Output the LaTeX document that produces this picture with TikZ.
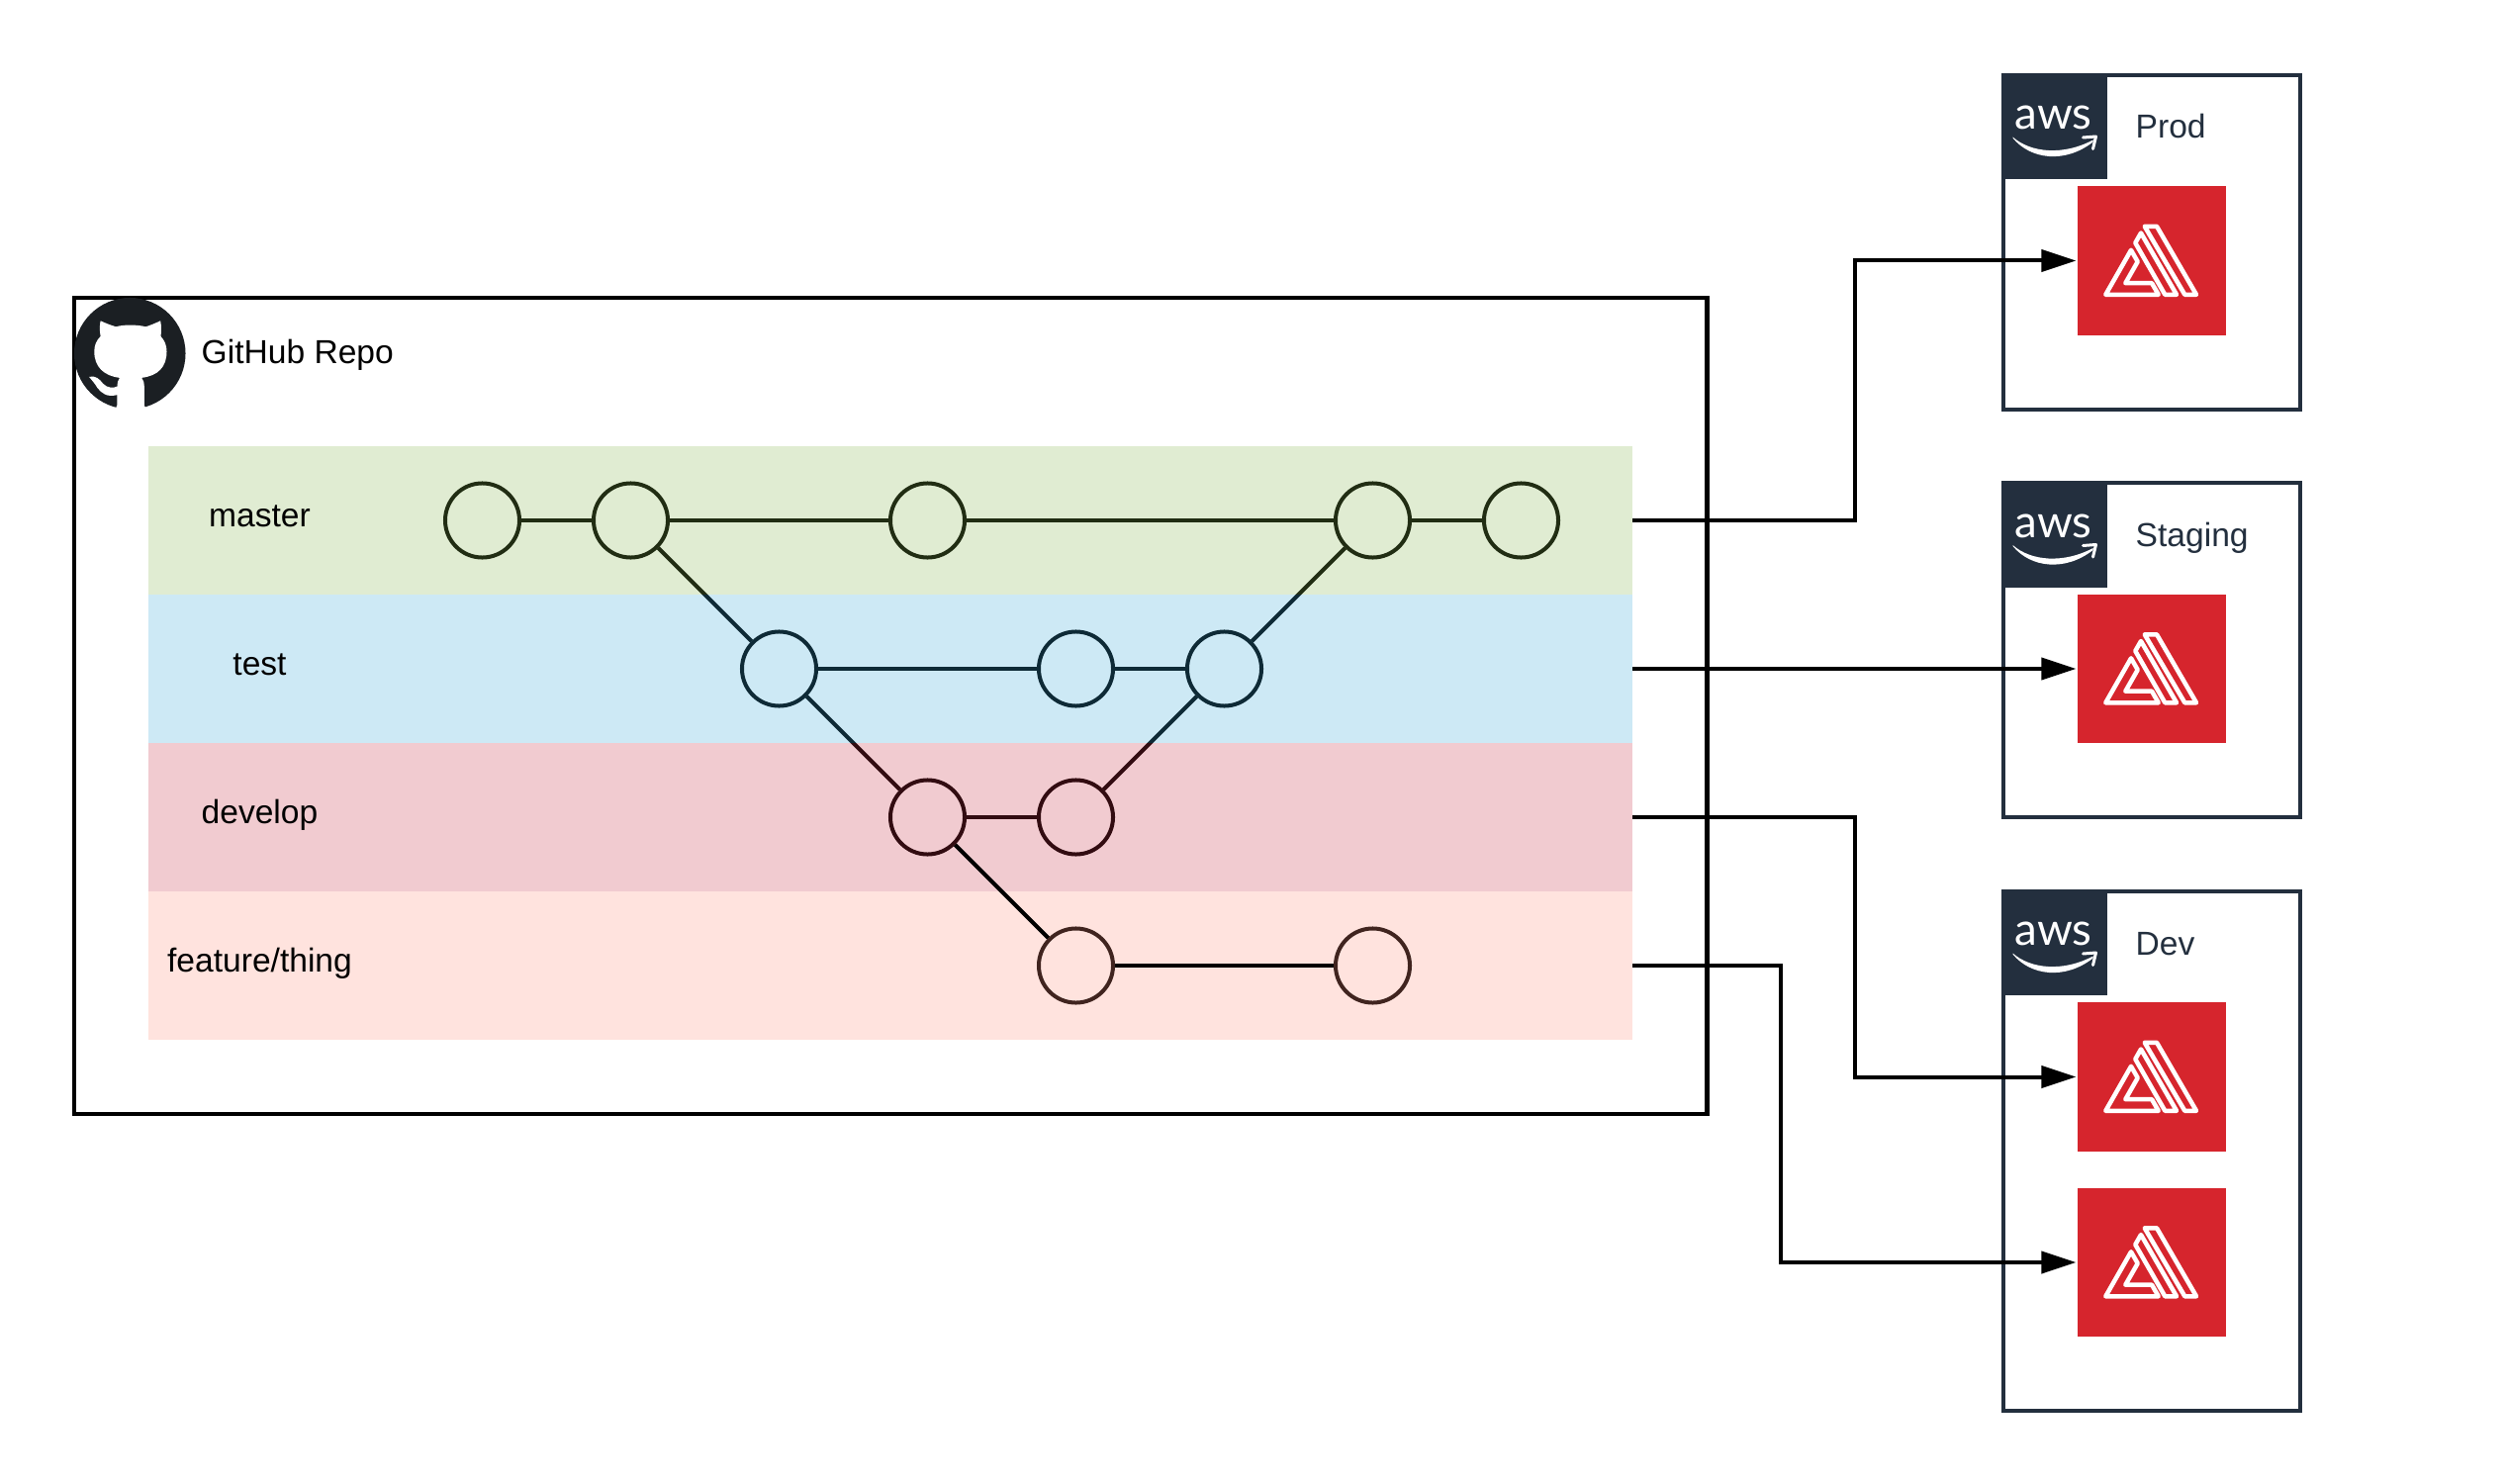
\documentclass[tikz,border=0pt]{standalone}
\usepackage{fontspec}
\setmainfont{Liberation Sans}
\newfontfamily\awsfont{Lato}
\usetikzlibrary{arrows.meta}
\definecolor{awsdark}{HTML}{232F3E}
\definecolor{ghdark}{HTML}{1B1F23}
\definecolor{ampred}{HTML}{D6252D}
\definecolor{masterfill}{HTML}{84B44C}
\definecolor{testfill}{HTML}{38A8D8}
\definecolor{developfill}{HTML}{C83044}
\definecolor{featurefill}{HTML}{FF907C}
\tikzset{
  lane/.style={inner sep=0pt,outer sep=0pt,minimum width=15cm,minimum height=1.5cm,fill opacity=.25},
  commit/.style={circle,draw=black,line width=.04cm,inner sep=0pt,minimum size=.75cm},
  link/.style={draw=black,line width=.04cm},
  deploy/.style={link,-{Triangle[length=.35cm,width=.22cm]},shorten >=.015cm},
  lanelabel/.style={anchor=base,font=\fontsize{9.55}{11}\selectfont},
  accountbox/.style={draw=awsdark,line width=.04cm,inner sep=0pt,minimum width=3cm},
  accountlabel/.style={anchor=base west,inner sep=0pt,text=awsdark,font=\fontsize{9.55}{11}\selectfont},
  awsbadge/.style={fill=awsdark,inner sep=0pt,minimum size=1.05cm},
  ampbox/.style={fill=ampred,inner sep=0pt,outer sep=0pt,minimum size=1.5cm},
  ampicon/.pic={
    \draw[white,line width=.045cm,line join=round]
      (-7.3,-34.7) -- (5,-34.7) -- (45,34.3) -- (33.3,34.3) -- cycle
      (-11,-28) -- (25,34.3) -- (13.3,34.3) -- (-16.7,-18) -- cycle
      (-21,-10.7) -- (-14.3,1) -- (-26.7,22.7) -- (0,22.7) -- (6.7,34.3) -- (-46.7,34.3) -- cycle;
  },
  awsicon/.pic={
    \node[text=white,inner sep=0pt,anchor=base,font=\awsfont\fontsize{13}{14}\selectfont] at (-2,2) {aws};
    \fill[white] (-43,10) .. controls (-25,26) and (8,29) .. (38,13) -- (38,15) .. controls (10,37) and (-25,33) .. (-43,11) -- cycle;
    \draw[white,line width=.03cm,line join=round,line cap=round] (28,10.5) -- (41,9.5) -- (38,22);
  }
}
\begin{document}
\begin{tikzpicture}[x=.01cm,y=-.01cm]
  \useasboundingbox (0,-1) rectangle (2533,1499);

  \node[draw=black,line width=.04cm,inner sep=0pt,minimum width=16.5cm,minimum height=8.25cm] (repo) at (900,712.5) {};

  \node[commit] (m1) at (487.5,525) {};
  \node[commit] (m2) at (637.5,525) {};
  \node[commit] (m3) at (937.5,525) {};
  \node[commit] (m4) at (1387.5,525) {};
  \node[commit] (m5) at (1537.5,525) {};
  \node[commit] (t1) at (787.5,675) {};
  \node[commit] (t2) at (1087.5,675) {};
  \node[commit] (t3) at (1237.5,675) {};
  \node[commit] (d1) at (937.5,825) {};
  \node[commit] (d2) at (1087.5,825) {};
  \node[commit] (f1) at (1087.5,975) {};
  \node[commit] (f2) at (1387.5,975) {};

  \draw[link] (m1) -- (m2);
  \draw[link] (m2) -- (m3);
  \draw[link] (m3) -- (m4);
  \draw[link] (m4) -- (m5);
  \draw[link] (m2) -- (t1);
  \draw[link] (t1) -- (t2);
  \draw[link] (t2) -- (t3);
  \draw[link] (t3) -- (m4);
  \draw[link] (t1) -- (d1);
  \draw[link] (d1) -- (d2);
  \draw[link] (d2) -- (t3);

  \node[lane,fill=masterfill] (masterlane) at (900,525) {};
  \node[lane,fill=testfill] (testlane) at (900,675) {};
  \node[lane,fill=developfill] (developlane) at (900,825) {};
  \node[lane,fill=featurefill] (featurelane) at (900,975) {};

  \draw[link] (d1) -- (f1);
  \draw[link] (f1) -- (f2);

  \node[lanelabel] (masterlabel) at (262.5,531) {master};
  \node[lanelabel] (testlabel) at (262.5,681) {test};
  \node[lanelabel] (developlabel) at (262.5,831) {develop};
  \node[lanelabel] (featurelabel) at (262.5,981) {feature/thing};

  \node[circle,fill=ghdark,inner sep=0pt,minimum size=1.125cm] (ghlogo) at (131.25,356.25) {};
  \begin{scope}[shift={(70,295)},x=.003333cm,y=-.003333cm]
    \fill[white] (95,85) .. controls (110,92) and (125,98) .. (142,103) .. controls (165,96) and (205,96) .. (232,103)
      .. controls (248,98) and (262,92) .. (277,85) .. controls (280,100) and (280,115) .. (278,132)
      .. controls (290,145) and (296,160) .. (296,178) .. controls (296,225) and (270,252) .. (220,258)
      .. controls (226,265) and (228,275) .. (228,285) -- (228,342) -- (236,358) -- (138,358) -- (145,342) -- (145,310)
      .. controls (115,318) and (98,305) .. (85,288) .. controls (78,275) and (68,265) .. (60,255)
      .. controls (80,250) and (92,262) .. (102,275) .. controls (115,290) and (135,290) .. (146,284)
      .. controls (146,273) and (148,265) .. (153,258) .. controls (105,252) and (76,225) .. (76,178)
      .. controls (76,160) and (82,145) .. (95,132) .. controls (92,115) and (92,100) .. (95,85) -- cycle;
  \end{scope}
  \node[anchor=base west,inner sep=0pt,font=\fontsize{9.55}{11}\selectfont] (repolabel) at (203,366.5) {GitHub Repo};

  \node[accountbox,minimum height=3.375cm] (prod) at (2175,243.75) {};
  \node[accountbox,minimum height=3.375cm] (staging) at (2175,656.25) {};
  \node[accountbox,minimum height=5.25cm] (dev) at (2175,1162.5) {};

  \node[awsbadge] (prodbadge) at (2077.5,127.5) {};
  \node[awsbadge] (stagingbadge) at (2077.5,540) {};
  \node[awsbadge] (devbadge) at (2077.5,952.5) {};
  \pic at (prodbadge) {awsicon};
  \pic at (stagingbadge) {awsicon};
  \pic at (devbadge) {awsicon};

  \node[accountlabel] (prodlabel) at (2158,139) {Prod};
  \node[accountlabel] (staginglabel) at (2158,551.5) {Staging};
  \node[accountlabel] (devlabel) at (2158,964) {Dev};

  \node[ampbox] (ampprod) at (2175,262.5) {};
  \node[ampbox] (ampstaging) at (2175,675) {};
  \node[ampbox] (ampdevelop) at (2175,1087.5) {};
  \node[ampbox] (ampfeature) at (2175,1275) {};
  \pic at (ampprod) {ampicon};
  \pic at (ampstaging) {ampicon};
  \pic at (ampdevelop) {ampicon};
  \pic at (ampfeature) {ampicon};

  \coordinate (masterbend) at (1875,525);
  \coordinate (developbend) at (1875,825);
  \coordinate (featurebend) at (1800,975);

  \draw[deploy] (masterlane.east) -- (masterbend) |- (ampprod.west);
  \draw[deploy] (testlane.east) -- (ampstaging.west);
  \draw[deploy] (developlane.east) -- (developbend) |- (ampdevelop.west);
  \draw[deploy] (featurelane.east) -- (featurebend) |- (ampfeature.west);
\end{tikzpicture}
\end{document}
